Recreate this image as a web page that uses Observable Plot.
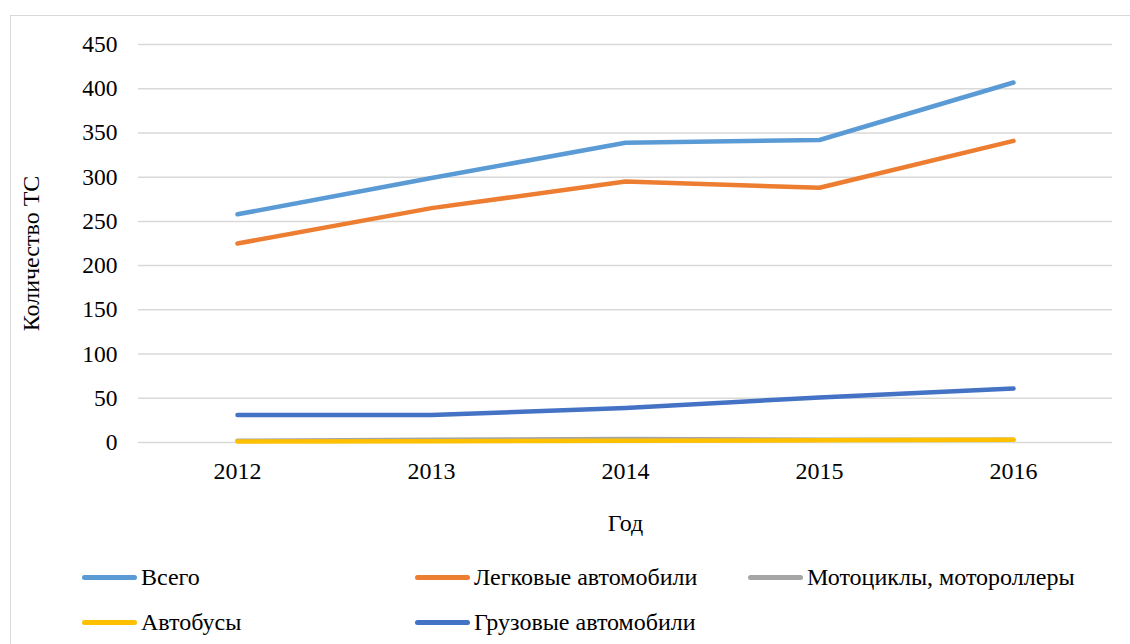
<!DOCTYPE html>
<html><head><meta charset="utf-8">
<script src="https://cdn.jsdelivr.net/npm/d3@7"></script>
<script src="https://cdn.jsdelivr.net/npm/@observablehq/plot@0.6"></script>
<style>
body{margin:0;background:#fff;font-family:"Liberation Serif","Times New Roman",serif;}
#wrap{position:relative;width:1130px;height:644px;overflow:hidden;}
#frame{position:absolute;left:10px;top:15px;width:1200px;height:700px;border:1px solid #d9d9d9;box-sizing:border-box;}
#chart{position:absolute;left:0;top:0;}
.lg{position:absolute;display:flex;align-items:center;font-size:24px;color:#000;white-space:nowrap;font-family:"Liberation Serif","Times New Roman",serif;}
.sw{width:55px;height:5px;border-radius:3px;margin-right:4px;}
</style></head>
<body>
<div id="wrap"><div id="frame"></div><div id="chart"></div><div id="legend"></div></div>
<script>
const years = ["2012","2013","2014","2015","2016"];
const seriesNames = ["Всего","Легковые автомобили","Мотоциклы, мотороллеры","Автобусы","Грузовые автомобили"];
const seriesColors = ["#5b9bd5","#ed7d31","#a5a5a5","#ffc000","#4472c4"];
const vsego = [258, 299, 339, 342, 407];
const legkovye = [225, 265, 295, 288, 341];
const moto = [2, 3, 4, 3, 3];
const avtobusy = [1, 1.5, 2, 2.5, 3];
const gruzovye = [31, 31, 39, 51, 61];
const yTicks = [0,50,100,150,200,250,300,350,400,450];

const allValues = [vsego, legkovye, moto, avtobusy, gruzovye];
const data = [];
seriesNames.forEach((s,i)=>years.forEach((y,j)=>data.push({series:s, year:y, value:allValues[i][j]})));

const serif = '"Liberation Serif","Times New Roman",serif';
const plot = Plot.plot({
  width:1130, height:540,
  marginTop:44, marginBottom:98, marginLeft:138, marginRight:18,
  style:{fontFamily:serif, fontSize:"24px", color:"#000", background:"transparent"},
  x:{type:"point", domain:years, padding:0.5},
  y:{domain:[0,450]},
  color:{domain:seriesNames, range:seriesColors},
  marks:[
    Plot.gridY(yTicks,{stroke:"#d9d9d9", strokeOpacity:1, strokeWidth:1.5}),
    Plot.axisY(yTicks,{tickSize:0, tickPadding:21, label:null, fontSize:23.5, fontFamily:serif}),
    Plot.axisX({tickSize:0, tickPadding:19, label:null, fontSize:24, fontFamily:serif}),
    Plot.line(data,{x:"year", y:"value", z:"series", stroke:"series", strokeWidth:4.5, strokeLinecap:"round", strokeLinejoin:"round"}),
    Plot.text(["Год"],{frameAnchor:"bottom", textAnchor:"middle", lineAnchor:"middle", dy:81, fontSize:24, fontFamily:serif}),
    Plot.text(["Количество ТС"],{frameAnchor:"left", textAnchor:"middle", lineAnchor:"middle", dx:-107, dy:10, rotate:-90, fontSize:24, fontFamily:serif})
  ]
});
document.getElementById("chart").appendChild(plot);

const legendPos = [[82,577],[415,577],[748,577],[82,622],[415,622]];
const lg = document.getElementById("legend");
seriesNames.forEach((s,i)=>{
  const d = document.createElement("div");
  d.className="lg";
  d.style.left = legendPos[i][0]+"px";
  d.style.top = (legendPos[i][1]-14)+"px";
  d.style.height="28px";
  const sw = document.createElement("div"); sw.className="sw"; sw.style.background=seriesColors[i];
  const t = document.createElement("span"); t.textContent=s;
  d.appendChild(sw); d.appendChild(t); lg.appendChild(d);
});
</script>
</body></html>
